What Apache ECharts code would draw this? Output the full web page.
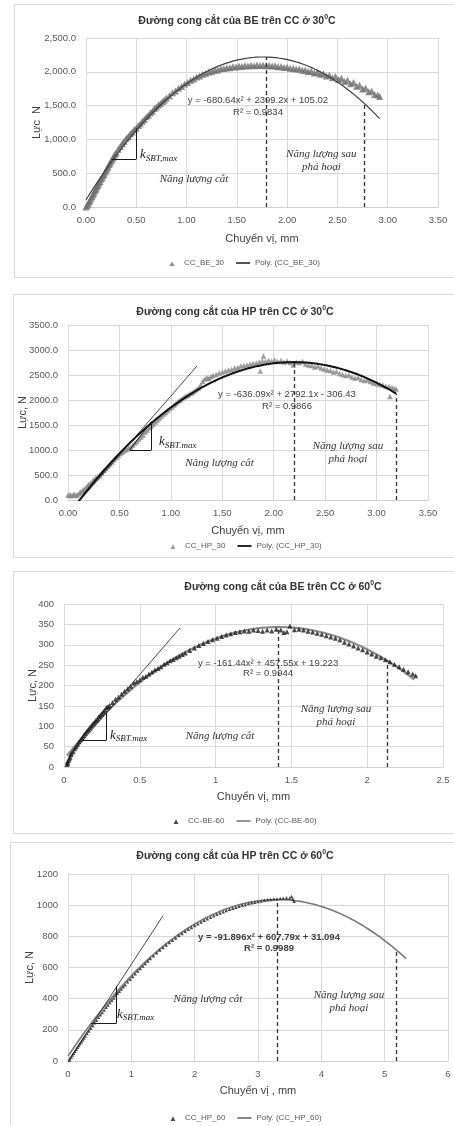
<!DOCTYPE html>
<html>
<head>
<meta charset="utf-8">
<script src="https://cdn.jsdelivr.net/npm/echarts@6/dist/echarts.min.js"></script>
<style>
  html, body { margin: 0; padding: 0; background: #fff; width: 454px; height: 1126px; overflow: hidden; }
  .panel { position: absolute; border: 1px solid #d9d9d9; background: #fff; }
</style>
</head>
<body>
<div id="p1" class="panel" style="left:14px;top:4px;width:444px;height:272px"></div>
<div id="p2" class="panel" style="left:13px;top:294px;width:442px;height:262px"></div>
<div id="p3" class="panel" style="left:13px;top:571px;width:446px;height:261px"></div>
<div id="p4" class="panel" style="left:10px;top:842px;width:448px;height:300px"></div>
<script>
// ---- measured load–displacement points [displacement mm, force N] ----
const ptsBE30 = [
  [0.00,0],[0.01,22],[0.02,44],[0.03,74],[0.04,98],[0.05,128],[0.06,156],[0.07,186],[0.08,212],[0.09,244],
  [0.10,268],[0.11,300],[0.12,322],[0.13,356],[0.14,378],[0.15,410],[0.16,432],[0.17,464],[0.18,486],[0.19,518],
  [0.20,542],[0.21,574],[0.22,596],[0.23,628],[0.24,652],[0.25,682],[0.26,706],[0.27,734],[0.28,756],[0.29,784],
  [0.30,804],[0.32,854],[0.34,894],[0.36,940],[0.38,972],[0.40,1016],[0.42,1044],[0.44,1084],[0.46,1108],[0.48,1146],
  [0.50,1168],[0.52,1206],[0.54,1232],[0.56,1270],[0.58,1296],[0.60,1334],[0.62,1358],[0.64,1396],[0.66,1418],[0.68,1456],
  [0.70,1478],[0.72,1510],[0.74,1532],[0.76,1562],[0.78,1582],[0.80,1612],[0.83,1646],[0.86,1690],[0.89,1716],[0.92,1756],
  [0.95,1782],[0.98,1818],[1.01,1842],[1.04,1874],[1.07,1892],[1.10,1924],[1.13,1938],[1.16,1964],[1.19,1978],[1.22,1998],
  [1.25,2006],[1.28,2024],[1.31,2028],[1.34,2044],[1.37,2048],[1.40,2060],[1.43,2060],[1.46,2074],[1.49,2070],[1.52,2084],
  [1.55,2080],[1.58,2092],[1.61,2086],[1.64,2096],[1.67,2090],[1.70,2100],[1.73,2092],[1.76,2098],[1.79,2088],[1.82,2094],
  [1.85,2084],[1.88,2088],[1.91,2074],[1.94,2078],[1.97,2064],[2.00,2066],[2.03,2052],[2.06,2054],[2.09,2040],[2.12,2042],
  [2.15,2024],[2.18,2026],[2.21,2006],[2.24,2008],[2.27,1984],[2.30,1990],[2.33,1962],[2.36,1972],[2.39,1938],[2.42,1950],
  [2.45,1912],[2.48,1930],[2.51,1886],[2.54,1904],[2.57,1856],[2.60,1876],[2.63,1824],[2.66,1842],[2.69,1788],[2.72,1800],
  [2.75,1746],[2.78,1762],[2.81,1706],[2.84,1716],[2.87,1666],[2.90,1662],[2.92,1636]
];
const ptsHP30 = [
  [0.00,95],[0.02,112],[0.03,84],[0.05,102],[0.06,122],[0.08,88],[0.09,106],[0.11,128],[0.12,160],[0.14,178],
  [0.15,212],[0.17,238],[0.19,282],[0.20,312],[0.22,338],[0.24,372],[0.25,412],[0.27,438],[0.29,472],[0.31,500],
  [0.33,542],[0.35,588],[0.37,632],[0.39,678],[0.41,722],[0.43,758],[0.45,812],[0.47,848],[0.49,892],[0.51,928],
  [0.53,962],[0.55,988],[0.57,1012],[0.59,1038],[0.61,1062],[0.63,1098],[0.65,1142],[0.67,1168],[0.69,1222],[0.71,1258],
  [0.73,1302],[0.75,1358],[0.77,1402],[0.79,1438],[0.81,1482],[0.83,1518],[0.85,1562],[0.87,1598],[0.89,1642],[0.91,1678],
  [0.93,1722],[0.95,1748],[0.97,1792],[0.99,1828],[1.01,1862],[1.03,1898],[1.05,1932],[1.07,1968],[1.09,2002],[1.11,2028],
  [1.13,2062],[1.15,2078],[1.17,2102],[1.19,2128],[1.21,2152],[1.23,2178],[1.25,2212],[1.27,2238],[1.29,2302],[1.31,2368],
  [1.33,2422],[1.35,2452],[1.37,2428],[1.39,2472],[1.41,2488],[1.44,2512],[1.47,2538],[1.50,2562],[1.53,2578],[1.56,2602],
  [1.59,2608],[1.62,2642],[1.65,2648],[1.68,2682],[1.71,2688],[1.74,2702],[1.77,2718],[1.80,2732],[1.83,2738],[1.86,2762],
  [1.87,2580],[1.89,2778],[1.90,2880],[1.92,2768],[1.95,2792],[1.98,2778],[2.01,2802],[2.04,2768],[2.07,2792],[2.10,2758],
  [2.13,2782],[2.16,2748],[2.19,2700],[2.22,2762],[2.25,2748],[2.28,2772],[2.31,2718],[2.34,2702],[2.37,2688],[2.40,2662],
  [2.43,2678],[2.46,2638],[2.49,2622],[2.52,2598],[2.55,2592],[2.58,2558],[2.61,2572],[2.64,2528],[2.67,2512],[2.70,2488],
  [2.73,2502],[2.76,2458],[2.79,2442],[2.82,2452],[2.85,2408],[2.88,2392],[2.91,2402],[2.94,2368],[2.97,2342],[3.00,2328],
  [3.03,2312],[3.06,2298],[3.09,2282],[3.12,2268],[3.13,2070],[3.15,2252],[3.17,2232],[3.19,2218]
];
const ptsBE60 = [
  [0.02,6],[0.022,12],[0.025,9],[0.03,16],[0.035,20],[0.04,24],[0.045,30],[0.05,34],[0.06,38],[0.07,45],
  [0.08,50],[0.09,56],[0.10,62],[0.11,67],[0.12,72],[0.13,77],[0.14,83],[0.15,88],[0.16,92],[0.17,97],
  [0.18,101],[0.19,106],[0.20,110],[0.21,114],[0.22,118],[0.23,124],[0.24,127],[0.25,131],[0.26,136],[0.27,140],
  [0.28,146],[0.29,148],[0.30,151],[0.32,158],[0.34,166],[0.36,172],[0.38,179],[0.40,186],[0.42,192],[0.44,198],
  [0.46,206],[0.48,210],[0.50,214],[0.52,220],[0.54,223],[0.56,228],[0.58,233],[0.60,238],[0.62,242],[0.64,246],
  [0.66,252],[0.68,256],[0.70,261],[0.72,264],[0.74,268],[0.76,272],[0.78,276],[0.80,280],[0.83,286],[0.86,292],
  [0.89,298],[0.92,303],[0.95,308],[0.98,312],[1.01,316],[1.04,320],[1.07,324],[1.10,327],[1.13,330],[1.16,332],
  [1.19,334],[1.22,333],[1.25,336],[1.28,335],[1.31,333],[1.34,336],[1.37,334],[1.40,338],[1.43,336],[1.45,330],
  [1.47,332],[1.49,346],[1.52,337],[1.55,338],[1.58,336],[1.61,333],[1.64,331],[1.67,328],[1.70,326],[1.73,322],
  [1.76,319],[1.79,316],[1.82,312],[1.85,306],[1.88,302],[1.91,297],[1.94,292],[1.97,288],[2.00,282],[2.03,277],
  [2.06,272],[2.09,268],[2.12,263],[2.15,258],[2.18,252],[2.21,246],[2.24,240],[2.27,234],[2.30,228],[2.32,224]
];
const ptsHP60 = [
  [0.02,5],[0.03,15],[0.05,25],[0.07,38],[0.09,50],[0.11,62],[0.13,75],[0.15,88],[0.17,100],[0.19,112],
  [0.21,124],[0.23,136],[0.25,148],[0.27,160],[0.30,176],[0.33,193],[0.36,210],[0.39,228],[0.42,245],[0.45,262],
  [0.48,280],[0.51,296],[0.54,312],[0.57,328],[0.60,345],[0.63,360],[0.66,375],[0.69,390],[0.72,405],[0.75,420],
  [0.78,434],[0.81,448],[0.84,462],[0.87,476],[0.90,490],[0.94,508],[0.98,525],[1.02,542],[1.06,560],[1.10,577],
  [1.14,594],[1.18,610],[1.22,626],[1.26,642],[1.30,658],[1.35,676],[1.40,694],[1.45,712],[1.50,728],[1.55,744],
  [1.60,760],[1.65,775],[1.70,790],[1.75,805],[1.80,818],[1.85,832],[1.90,845],[1.95,857],[2.00,870],[2.05,881],
  [2.10,892],[2.15,903],[2.20,913],[2.25,923],[2.30,932],[2.35,941],[2.40,950],[2.45,958],[2.50,966],[2.55,973],
  [2.60,980],[2.65,987],[2.70,993],[2.75,999],[2.80,1004],[2.85,1010],[2.90,1015],[2.95,1019],[3.00,1023],[3.05,1027],
  [3.10,1031],[3.15,1034],[3.20,1037],[3.25,1040],[3.30,1040],[3.35,1043],[3.40,1044],[3.45,1048],[3.50,1046],[3.53,1055],
  [3.55,1040],[3.57,1025]
];

// ---- second-order trendlines y = a2·x² + a1·x + a0 and their R² ----
const polyBE30 = [-680.64, 2399.2, 105.02];
const polyHP30 = [-636.09, 2792.1, -306.43];
const polyBE60 = [-161.44, 457.55, 19.223];
const polyHP60 = [-91.896, 607.79, 31.094];
const r2Values = ['0.9834', '0.9866', '0.9944', '0.9989'];
// displacement span of each trendline
const polySpan = [[0, 2.92], [0, 3.19], [0.02, 2.31], [0, 5.34]];

// ---- axis ranges [min, max, interval] ----
const xRanges = [[0, 3.5, 0.5], [0, 3.5, 0.5], [0, 2.5, 0.5], [0, 6, 1]];
const yRanges = [[0, 2500, 500], [0, 3500, 500], [0, 400, 50], [0, 1200, 200]];

// ---- names ----
const titles = [
  ['Đường cong cắt của BE trên CC ở 30', '0', 'C'],
  ['Đường cong cắt của HP trên CC ở 30', '0', 'C'],
  ['Đường cong cắt của BE trên CC ở 60', '0', 'C'],
  ['Đường cong cắt của HP trên CC ở 60', '0', 'C']
];
const seriesNames = ['CC_BE_30', 'CC_HP_30', 'CC-BE-60', 'CC_HP_60'];
const xNames = ['Chuyển vị, mm', 'Chuyển vị, mm', 'Chuyển vị, mm', 'Chuyển vị , mm'];
const yNames = ['Lực  N', 'Lực, N', 'Lực, N', 'Lực, N'];

// ---- energy boundaries (dashed verticals), tangent lines and stiffness triangles ----
const boundaryX = [[1.79, 2.77], [2.2, 3.19], [1.41, 2.13], [3.3, 5.19]];
const tangents = [null, [[0.12, 0], [1.254, 2680]], [[0.03, 25], [0.765, 341]], [[0.02, 10], [1.5, 932]]];
const stiffTri = [
  [[0.255, 710], [0.5, 710], [0.5, 1160]],
  [[0.6, 1000], [0.81, 1000], [0.81, 1570]],
  [[0.12, 66], [0.28, 66], [0.28, 132]],
  [[0.37, 240], [0.76, 240], [0.76, 480]]
];
const kSub = ['SBT,max', 'SBT.max', 'SBT.max', 'SBT.max'];

// ---- annotation anchors in data units ----
const eqPos = [[1.71, 1583, 1405], [2.129, 2120, 1880], [1.346, 255, 230], [3.174, 795, 724]];
const kPos = [[0.537, 769], [0.885, 1160], [0.303, 78], [0.774, 300]];
const shearPos = [[1.074, 414], [1.473, 740], [1.029, 77], [2.21, 397]];
const postPos = [[2.34, 688], [2.722, 940], [1.794, 126], [4.437, 380]];

const SANS = '"Liberation Sans", "DejaVu Sans", sans-serif';
const SERIF = '"Liberation Serif", "DejaVu Serif", serif';

// legend glyphs: a small triangle and a short bar, each inside a 14×6 box
const ICON_TRI = 'path://M0,0M14,6M4.6,6L7,1.2L9.4,6Z';
const ICON_BAR = 'path://M0,0M14,6M0,2.1L14,2.1L14,3.9L0,3.9Z';

function polyY(c, x) { return c[0] * x * x + c[1] * x + c[2]; }
function polyLine(c, span) {
  const pts = [];
  const n = 150;
  for (let i = 0; i <= n; i++) {
    const x = span[0] + (span[1] - span[0]) * i / n;
    pts.push([x, polyY(c, x)]);
  }
  return pts;
}
function eqText(c) {
  const t = (v) => (v >= 0 ? '+ ' : '- ') + Math.abs(v);
  return 'y = ' + c[0] + 'x² ' + t(c[1]) + 'x ' + t(c[2]);
}

// per-panel layout and look
const panels = [
  { el: 'p1', pts: ptsBE30, poly: polyBE30, grid: [71, 33, 352, 169], title: [222, 16],
    legendPos: [150, 254], yGap: 44, xGap: 26, labelSize: 9.5, yFmt: v => v.toLocaleString('en-US', {minimumFractionDigits: 1, maximumFractionDigits: 1}),
    xFmt: v => v.toFixed(2), sym: 7, symColor: '#6f6f6f', lineColor: '#404040', lineWidth: 1.2, scatterZ: 2, lineZ: 3, eqBold: false },
  { el: 'p2', pts: ptsHP30, poly: polyHP30, grid: [54, 30, 360, 175], title: [221, 17],
    legendPos: [152, 247], yGap: 40, xGap: 25, labelSize: 9.5, yFmt: v => v.toFixed(1),
    xFmt: v => v.toFixed(2), sym: 5.5, symColor: '#858585', lineColor: '#111111', lineWidth: 2, scatterZ: 2, lineZ: 3, eqBold: false },
  { el: 'p3', pts: ptsBE60, poly: polyBE60, grid: [50, 32, 379, 163], title: [269, 15],
    legendPos: [155, 245], yGap: 26, xGap: 24, labelSize: 9.5, yFmt: v => String(v),
    xFmt: v => String(v), sym: 5, symColor: '#1a1a1a', lineColor: '#8c8c8c', lineWidth: 2.2, scatterZ: 3, lineZ: 2, eqBold: false },
  { el: 'p4', pts: ptsHP60, poly: polyHP60, grid: [57, 31, 380, 187], title: [224, 13],
    legendPos: [155, 271], yGap: 33, xGap: 24, labelSize: 9.5, yFmt: v => String(v),
    xFmt: v => String(v), sym: 3.5, symColor: '#222222', lineColor: '#7a7a7a', lineWidth: 1.6, scatterZ: 3, lineZ: 2, eqBold: true }
];

panels.forEach((p, i) => {
  const chart = echarts.init(document.getElementById(p.el), null, { renderer: 'canvas' });
  const c = p.poly;
  const xr = xRanges[i], yr = yRanges[i];

  const lines = [];
  const dash = { color: '#333333', width: 1.3, type: [4, 3] };
  boundaryX[i].forEach(x => {
    lines.push([{ coord: [x, 0], lineStyle: dash }, { coord: [x, polyY(c, x)] }]);
  });
  if (tangents[i]) {
    lines.push([{ coord: tangents[i][0], lineStyle: { color: '#1a1a1a', width: 0.8, type: 'solid' } }, { coord: tangents[i][1] }]);
  }
  const tri = stiffTri[i];
  const triStyle = { color: '#1a1a1a', width: 1, type: 'solid' };
  lines.push([{ coord: tri[0], lineStyle: triStyle }, { coord: tri[1] }]);
  lines.push([{ coord: tri[1], lineStyle: triStyle }, { coord: tri[2] }]);
  if (i === 1) lines.push([{ coord: tri[0], lineStyle: triStyle }, { coord: tri[2] }]);

  const noteStyle = { fontFamily: SERIF, fontStyle: 'italic', fontSize: 11, color: '#333333', lineHeight: 13 };
  const eqStyle = { fontFamily: SANS, fontSize: 9.5, color: '#404040', fontWeight: p.eqBold ? 'bold' : 'normal' };
  const marks = [
    { coord: [eqPos[i][0], eqPos[i][1]], label: Object.assign({ formatter: eqText(c) }, eqStyle) },
    { coord: [eqPos[i][0], eqPos[i][2]], label: Object.assign({ formatter: 'R² = ' + r2Values[i] }, eqStyle) },
    { coord: shearPos[i], label: Object.assign({ formatter: 'Năng lượng cắt' }, noteStyle) },
    { coord: postPos[i], label: Object.assign({ formatter: 'Năng lượng sau\nphá hoại', align: 'center' }, noteStyle) },
    { coord: kPos[i], label: {
        position: 'right', distance: 0,
        formatter: '{k|k}{s|' + kSub[i] + '}',
        rich: {
          k: { fontFamily: SERIF, fontStyle: 'italic', fontSize: 13, color: '#1a1a1a', lineHeight: 16 },
          s: { fontFamily: SERIF, fontStyle: 'italic', fontSize: 9, color: '#1a1a1a', lineHeight: 9, verticalAlign: 'bottom' }
        } } }
  ];

  const scatterName = seriesNames[i];
  const polyName = 'Poly. (' + seriesNames[i] + ')';

  const option = {
    animation: false,
    title: {
      text: '{a|' + titles[i][0] + '}{s|' + titles[i][1] + '}{a|' + titles[i][2] + '}',
      left: p.title[0], top: p.title[1], textAlign: 'center', textVerticalAlign: 'middle', padding: 0,
      textStyle: {
        rich: {
          a: { fontFamily: SANS, fontWeight: 'bold', fontSize: 10.5, color: '#333333', lineHeight: 14 },
          s: { fontFamily: SANS, fontWeight: 'bold', fontSize: 7, color: '#333333', lineHeight: 8, verticalAlign: 'top' }
        }
      }
    },
    legend: {
      left: p.legendPos[0], top: p.legendPos[1], itemWidth: 14, itemHeight: 6, itemGap: 12, padding: 0,
      textStyle: { fontFamily: SANS, fontSize: 8, color: '#595959' },
      data: [
        { name: scatterName, icon: ICON_TRI, itemStyle: { color: p.symColor, borderWidth: 0 } },
        { name: polyName, icon: ICON_BAR, itemStyle: { color: p.lineColor, borderWidth: 0 } }
      ]
    },
    grid: { left: p.grid[0], top: p.grid[1], width: p.grid[2], height: p.grid[3], containLabel: false, outerBoundsMode: 'none' },
    xAxis: {
      type: 'value', min: xr[0], max: xr[1], interval: xr[2],
      name: xNames[i], nameLocation: 'middle', nameGap: p.xGap, nameMoveOverlap: false,
      nameTextStyle: { fontFamily: SANS, fontSize: 11, color: '#404040' },
      axisLine: { show: true, lineStyle: { color: '#cfcfcf', width: 1 } },
      axisTick: { show: false },
      splitLine: { show: true, lineStyle: { color: '#d9d9d9', width: 1 } },
      axisLabel: { formatter: p.xFmt, fontFamily: SANS, fontSize: p.labelSize, color: '#595959', margin: 8 }
    },
    yAxis: {
      type: 'value', min: yr[0], max: yr[1], interval: yr[2],
      name: yNames[i], nameLocation: 'middle', nameGap: p.yGap, nameRotate: 90, nameMoveOverlap: false,
      nameTextStyle: { fontFamily: SANS, fontSize: 11, color: '#404040' },
      axisLine: { show: false },
      axisTick: { show: false },
      splitLine: { show: true, lineStyle: { color: '#d9d9d9', width: 1 } },
      axisLabel: { formatter: p.yFmt, fontFamily: SANS, fontSize: p.labelSize, color: '#595959', margin: 10 }
    },
    series: [
      {
        name: scatterName, type: 'scatter', data: p.pts, symbol: 'triangle', symbolSize: p.sym,
        itemStyle: { color: p.symColor }, z: p.scatterZ, silent: true
      },
      {
        name: polyName, type: 'line', data: polyLine(c, polySpan[i]), symbol: 'none', showSymbol: false,
        lineStyle: { color: p.lineColor, width: p.lineWidth }, itemStyle: { color: p.lineColor },
        z: p.lineZ, clip: true, silent: true,
        markLine: { silent: true, symbol: ['none', 'none'], label: { show: false }, animation: false, data: lines },
        markPoint: { silent: true, symbol: 'circle', symbolSize: 0, itemStyle: { color: 'rgba(0,0,0,0)' },
          label: { show: true, position: 'inside' }, data: marks }
      }
    ]
  };
  chart.setOption(option);
});
</script>
</body>
</html>
